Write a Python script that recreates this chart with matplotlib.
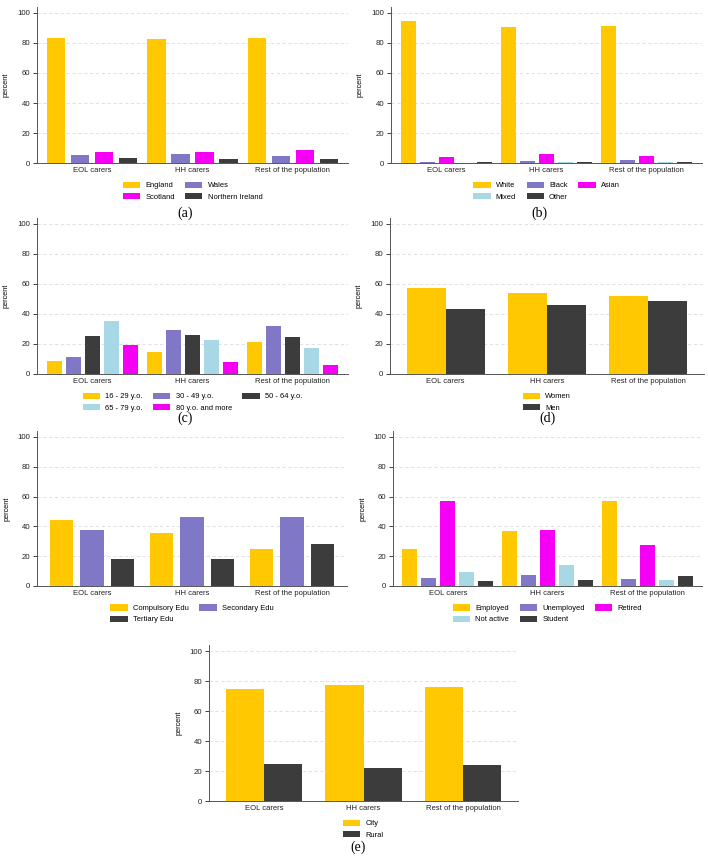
import numpy as np
import matplotlib
matplotlib.use("Agg")
from matplotlib import pyplot as plt

plt.rcParams['font.family'] = ['Liberation Sans', 'DejaVu Sans']

groups = ['EOL carers', 'HH carers', 'Rest of the population']

# (a) country
country_labels = ['England', 'Wales', 'Scotland', 'Northern Ireland']
england = [83.3, 82.9, 83.6]
wales = [5.6, 5.8, 4.7]
scotland = [7.1, 7.3, 8.4]
n_ireland = [3.3, 2.9, 2.7]

# (b) ethnicity
ethnic_labels = ['White', 'Black', 'Asian', 'Mixed', 'Other']
white = [94.4, 90.4, 91.3]
black = [0.7, 1.6, 2.0]
asian = [4.0, 6.0, 4.9]
mixed = [0.1, 0.9, 0.9]
other = [0.4, 0.6, 0.6]

# (c) age
age_labels = ['16 - 29 y.o.', '30 - 49 y.o.', '50 - 64 y.o.', '65 - 79 y.o.', '80 y.o. and more']
age_16_29 = [8.9, 14.6, 21.5]
age_30_49 = [11.5, 29.0, 31.7]
age_50_64 = [25.3, 26.0, 24.4]
age_65_79 = [35.5, 22.8, 17.3]
age_80 = [19.5, 7.8, 5.8]

# (d) sex
sex_labels = ['Women', 'Men']
women = [57.2, 53.9, 51.9]
men = [43.2, 46.3, 48.6]

# education
edu_labels = ['Compulsory Edu', 'Secondary Edu', 'Tertiary Edu']
compulsory = [44.3, 35.4, 24.9]
secondary = [37.4, 46.3, 46.3]
tertiary = [18.0, 18.0, 28.5]

# employment
emp_labels = ['Employed', 'Unemployed', 'Retired', 'Not active', 'Student']
employed = [24.7, 37.0, 56.8]
unemployed = [5.6, 7.1, 4.7]
retired = [56.8, 37.6, 27.6]
not_active = [9.6, 13.8, 4.0]
student = [3.3, 4.2, 6.7]

# (e) area
area_labels = ['City', 'Rural']
city = [75.0, 77.5, 75.7]
rural = [24.5, 22.0, 23.8]

YEL = '#FFC800'
PUR = '#8077C7'
MAG = '#F500F5'
CYA = '#A8D8E5'
DRK = '#3C3C3C'

W, H = 708, 861
fig = plt.figure(figsize=(W / 100, H / 100), dpi=100)

# bar width and step between bars for each number of series
bar_geom = {2: (0.383, 0.383), 3: (0.233, 0.307), 4: (0.183, 0.24), 5: (0.15, 0.19)}


def panel(rect, series, labels, colors, ncol, caption=None, cap_xy=None):
  left, right, top, bottom = rect
  ax = fig.add_axes([left / W, 1 - bottom / H, (right - left) / W, (bottom - top) / H])
  n = len(series)
  width, step = bar_geom[n]
  x = np.arange(len(groups))
  handles = []
  for i, (vals, col) in enumerate(zip(series, colors)):
    off = (i - (n - 1) / 2) * step
    b = ax.bar(x + off, vals, width, color=col, zorder=3, linewidth=0)
    handles.append(b)
  ax.set_xlim(-0.55, 2.55)
  ax.set_ylim(0, 104)
  ax.set_yticks([0, 20, 40, 60, 80, 100])
  ax.set_xticks(x)
  ax.set_xticklabels(groups)
  ax.tick_params(axis='x', length=0, labelsize=5.5, pad=3, colors='#222222')
  ax.tick_params(axis='y', length=3, width=0.6, labelsize=5.6, pad=2, colors='#222222')
  for s in ['top', 'right']:
    ax.spines[s].set_visible(False)
  for s in ['left', 'bottom']:
    ax.spines[s].set_color('#555555')
    ax.spines[s].set_linewidth(0.7)
  ax.yaxis.grid(True, color='#dcdcdc', linestyle=(0, (4, 3)), linewidth=0.6, zorder=0)
  ax.set_ylabel('percent', fontsize=5.3)
  ax.yaxis.set_label_coords(-0.087, 0.5)
  # legend filled row-wise
  nrows = int(np.ceil(n / ncol))
  order = [r * ncol + c for c in range(ncol) for r in range(nrows) if r * ncol + c < n]
  ax.legend([handles[i] for i in order], [labels[i] for i in order], ncol=ncol,
            loc='upper center', bbox_to_anchor=(0.5, -0.095), frameon=False,
            fontsize=5.4, handlelength=2.3, handleheight=0.95, handletextpad=0.7,
            columnspacing=1.4, labelspacing=0.45, borderpad=0)
  if caption:
    fig.text(cap_xy[0] / W, 1 - cap_xy[1] / H, caption, ha='center', va='center',
             fontsize=10, family='Liberation Serif')
  return ax


panel((37, 348, 7, 163), [england, wales, scotland, n_ireland], country_labels,
      [YEL, PUR, MAG, DRK], 2, '(a)', (185, 213))
panel((391, 702, 7, 163), [white, black, asian, mixed, other], ethnic_labels,
      [YEL, PUR, MAG, CYA, DRK], 3, '(b)', (539, 213))
panel((37, 348, 218, 374), [age_16_29, age_30_49, age_50_64, age_65_79, age_80], age_labels,
      [YEL, PUR, DRK, CYA, MAG], 3, '(c)', (185, 418))
panel((390, 704, 218, 374), [women, men], sex_labels, [YEL, DRK], 1, '(d)', (547, 418))
panel((37, 347, 431, 586), [compulsory, secondary, tertiary], edu_labels,
      [YEL, PUR, DRK], 2)
panel((393, 702, 431, 586), [employed, unemployed, retired, not_active, student], emp_labels,
      [YEL, PUR, MAG, CYA, DRK], 3)
panel((209, 518, 645, 801), [city, rural], area_labels, [YEL, DRK], 1, '(e)', (358, 847))

fig.savefig('out.png', dpi=100)
